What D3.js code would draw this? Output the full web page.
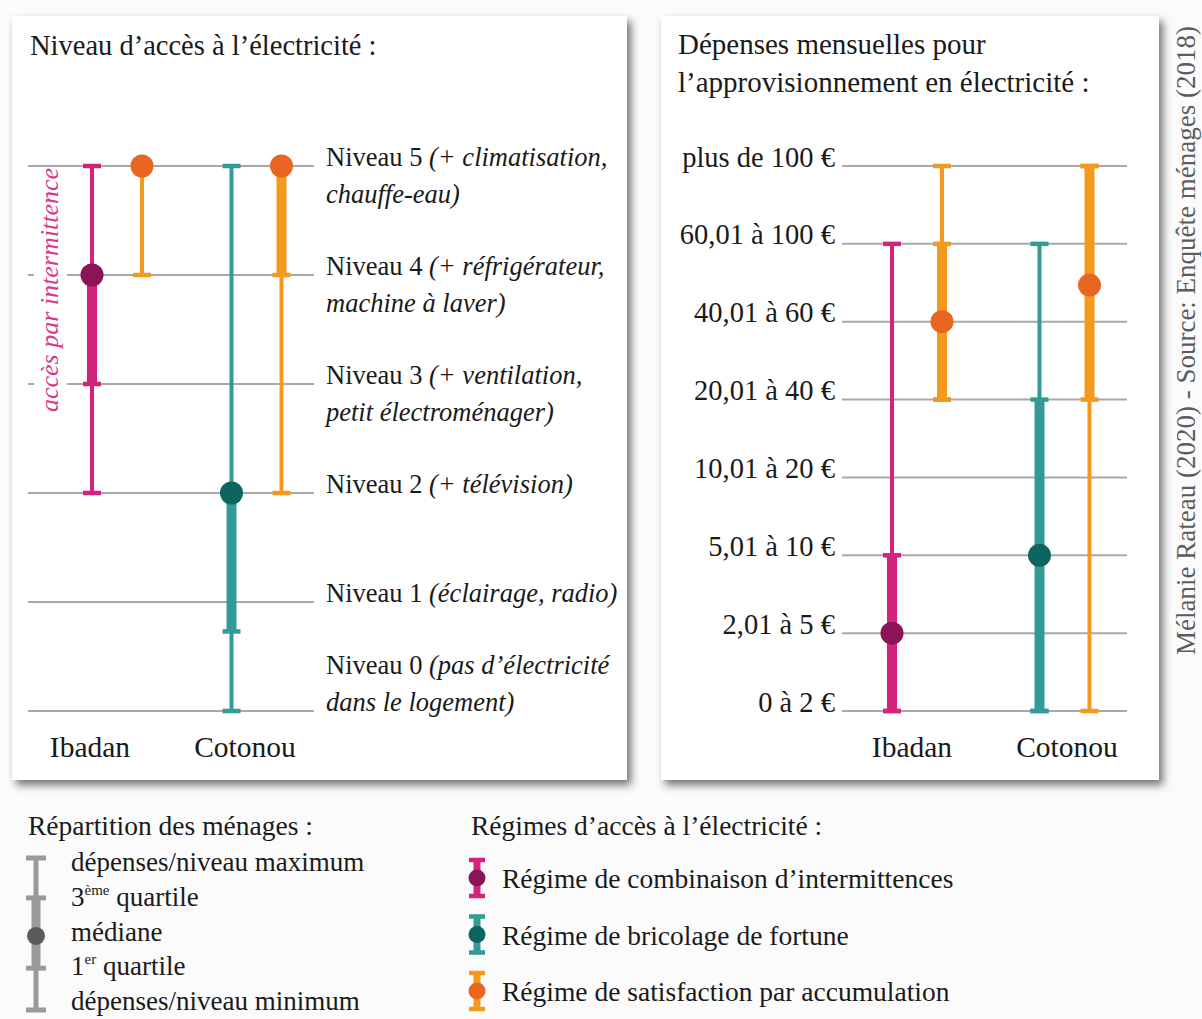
<!DOCTYPE html>
<html><head><meta charset="utf-8">
<script src="https://cdn.jsdelivr.net/npm/d3@7"></script>
<style>
body{margin:0;background:#fbfbfb;}
</style>
</head><body>
<svg id="c" width="1202" height="1019"></svg>
<script>
// ---------- DATA ----------
const cities = ["Ibadan", "Cotonou"];
const regimes = ["Régime de combinaison d’intermittences", "Régime de bricolage de fortune", "Régime de satisfaction par accumulation"];
const regimeLineColors = ["#d4237f", "#329b98", "#f39a1e"];
const regimeDotColors = ["#8c1458", "#0d6461", "#e8661f"];

const levelNames = ["Niveau 0", "Niveau 1", "Niveau 2", "Niveau 3", "Niveau 4", "Niveau 5"];
const levelDetail1 = ["(pas d’électricité", "(éclairage, radio)", "(+ télévision)", "(+ ventilation,", "(+ réfrigérateur,", "(+ climatisation,"];
const levelDetail2 = ["dans le logement)", "", "", "petit électroménager)", "machine à laver)", "chauffe-eau)"];

const spendLabels = ["0 à 2 €", "2,01 à 5 €", "5,01 à 10 €", "10,01 à 20 €", "20,01 à 40 €", "40,01 à 60 €", "60,01 à 100 €", "plus de 100 €"];

// Level of access (0-5) per city / regime
const accessCity   = ["Ibadan", "Ibadan", "Cotonou", "Cotonou"];
const accessRegime = [0, 2, 1, 2];
const accessMin    = [2, 4, 0, 2];
const accessQ1     = [3, 5, 0.73, 4];
const accessMedian = [4, 5, 2, 5];
const accessQ3     = [4, 5, 2, 5];
const accessMax    = [5, 5, 5, 5];

// Monthly spending class index (0 = "0 à 2 €" ... 7 = "plus de 100 €")
const spendCity   = ["Ibadan", "Ibadan", "Cotonou", "Cotonou"];
const spendRegime = [0, 2, 1, 2];
const spendMin    = [0, 4, 0, 0];
const spendQ1     = [0, 4, 0, 4];
const spendMedian = [1, 5, 2, 5.47];
const spendQ3     = [2, 6, 4, 7];
const spendMax    = [6, 7, 6, 7];

const sourceText = "Mélanie Rateau (2020) - Source: Enquête ménages (2018)";

// ---------- FONT PICK ----------
function pickFont(cands) {
  const ctx = document.createElement("canvas").getContext("2d");
  const sample = "Niveau d’accès à l’électricité mmmwwwiii";
  ctx.font = "40px monospace"; const wm = ctx.measureText(sample).width;
  ctx.font = "40px sans-serif"; const ws = ctx.measureText(sample).width;
  for (const c of cands) {
    ctx.font = `40px "${c}", monospace`; const a = ctx.measureText(sample).width;
    ctx.font = `40px "${c}", sans-serif`; const b = ctx.measureText(sample).width;
    if (a !== wm || b !== ws) return `"${c}"`;
  }
  return "serif";
}
const FONT = pickFont(["Liberation Serif", "DejaVu Serif", "Noto Serif", "Tinos", "Times New Roman", "FreeSerif", "Nimbus Roman"]);
d3.select("head").append("style").text(`text{font-family:${FONT},serif;fill:#1a1a1a;}`);

// ---------- SETUP ----------
const svg = d3.select("#c");
const defs = svg.append("defs");
const f = defs.append("filter").attr("id", "shadow").attr("x", "-5%").attr("y", "-5%").attr("width", "115%").attr("height", "115%");
f.append("feDropShadow").attr("dx", 4).attr("dy", 5).attr("stdDeviation", 4)
  .attr("flood-color", "#000").attr("flood-opacity", 0.55);

svg.append("rect").attr("x", 12).attr("y", 16).attr("width", 615).attr("height", 764)
  .attr("fill", "#fff").attr("filter", "url(#shadow)");
svg.append("rect").attr("x", 661).attr("y", 16).attr("width", 498).attr("height", 764)
  .attr("fill", "#fff").attr("filter", "url(#shadow)");

function buildRows(city, regime, mn, q1, md, q3, mx) {
  const counters = {};
  return city.map((c, i) => {
    counters[c] = (counters[c] || 0);
    const slot = counters[c]++;
    return {city: c, regime: regime[i], slot, min: mn[i], q1: q1[i], median: md[i], q3: q3[i], max: mx[i]};
  });
}

function drawBoxes(g, rows, xCity, xSlot, y) {
  const item = g.selectAll("g.item").data(rows).join("g").attr("class", "item")
    .attr("transform", d => `translate(${xCity(d.city) + xSlot(d.slot)},0)`);
  item.append("line").attr("y1", d => y(d.min)).attr("y2", d => y(d.max))
    .attr("stroke", d => regimeLineColors[d.regime]).attr("stroke-width", 4);
  item.append("line").attr("y1", d => y(d.q1)).attr("y2", d => y(d.q3))
    .attr("stroke", d => regimeLineColors[d.regime]).attr("stroke-width", 10);
  item.each(function(d) {
    const caps = [d.min, d.q1, d.q3, d.max];
    d3.select(this).selectAll("line.cap").data(caps).join("line").attr("class", "cap")
      .attr("x1", -9).attr("x2", 9).attr("y1", v => y(v)).attr("y2", v => y(v))
      .attr("stroke", regimeLineColors[d.regime]).attr("stroke-width", 4.5);
  });
  item.append("circle").attr("cy", d => y(d.median)).attr("r", 11.5)
    .attr("fill", d => regimeDotColors[d.regime]);
}

// ---------- LEFT PANEL ----------
const yLevel = d3.scaleLinear().domain([0, 5]).range([711, 166]);
const xCityL = d3.scalePoint().domain(cities).range([117, 256.5]);
const xSlot = d3.scalePoint().domain([0, 1]).range([-25, 25]);
const xLabelL = d3.scalePoint().domain(cities).range([90, 245]);

const L = svg.append("g");
L.append("text").attr("x", 30).attr("y", 55).attr("font-size", 28.5).text("Niveau d’accès à l’électricité :");

// intermittence annotation
const interm = L.append("text")
  .attr("transform", `translate(58,${(yLevel(5) + yLevel(3)) / 2 + 15}) rotate(-90)`)
  .attr("text-anchor", "middle").attr("font-size", 26).attr("font-style", "italic")
  .style("fill", "#d6398c").text("accès par intermittence");
const ib = interm.node().getBoundingClientRect();

const levels = d3.range(6);
levels.forEach(l => {
  const yy = yLevel(l);
  const segs = (yy > ib.top && yy < ib.bottom) ? [[28, 34], [Math.max(ib.right + 3, 65), 314]] : [[28, 314]];
  segs.forEach(s => L.append("line").attr("x1", s[0]).attr("x2", s[1]).attr("y1", yy).attr("y2", yy)
    .attr("stroke", "#a8a8a8").attr("stroke-width", 2));
});

const lab = L.selectAll("text.lvl").data(levels).join("text").attr("class", "lvl")
  .attr("x", 326).attr("font-size", 26.5)
  .attr("y", d => levelDetail2[d] && d === 0 ? yLevel(d) - 37 : yLevel(d));
lab.append("tspan").text(d => levelNames[d] + " ");
lab.append("tspan").attr("font-style", "italic").text(d => levelDetail1[d]);
L.selectAll("text.lvl2").data(levels.filter(d => levelDetail2[d])).join("text").attr("class", "lvl2")
  .attr("x", 326).attr("font-size", 26.5).attr("font-style", "italic")
  .attr("y", d => d === 0 ? yLevel(d) : yLevel(d) + 37).text(d => levelDetail2[d]);

drawBoxes(L.append("g"), buildRows(accessCity, accessRegime, accessMin, accessQ1, accessMedian, accessQ3, accessMax), xCityL, xSlot, yLevel);

L.selectAll("text.city").data(cities).join("text").attr("class", "city")
  .attr("x", d => xLabelL(d)).attr("y", 757).attr("text-anchor", "middle").attr("font-size", 29.5).text(d => d);

// ---------- RIGHT PANEL ----------
const ySpend = d3.scaleLinear().domain([0, 7]).range([711, 166]);
const xCityR = d3.scalePoint().domain(cities).range([917, 1064.5]);
const xLabelR = d3.scalePoint().domain(cities).range([912, 1067]);

const R = svg.append("g");
R.append("text").attr("x", 678).attr("y", 54).attr("font-size", 29).text("Dépenses mensuelles pour");
R.append("text").attr("x", 678).attr("y", 92).attr("font-size", 29).text("l’approvisionnement en électricité :");

R.selectAll("line.grid").data(d3.range(8)).join("line").attr("class", "grid")
  .attr("x1", 842).attr("x2", 1127).attr("y1", d => ySpend(d)).attr("y2", d => ySpend(d))
  .attr("stroke", "#a8a8a8").attr("stroke-width", 2);

const axis = R.append("g").attr("transform", "translate(842,0)")
  .call(d3.axisLeft(ySpend).tickValues(d3.range(8)).tickFormat(i => spendLabels[i]).tickSize(0).tickPadding(7));
axis.select(".domain").remove();
axis.attr("font-family", null).attr("font-size", null);
axis.selectAll("text").attr("dy", "0").attr("font-size", 28.5).style("fill", "#1a1a1a");

drawBoxes(R.append("g"), buildRows(spendCity, spendRegime, spendMin, spendQ1, spendMedian, spendQ3, spendMax), xCityR, xSlot, ySpend);

R.selectAll("text.city").data(cities).join("text").attr("class", "city")
  .attr("x", d => xLabelR(d)).attr("y", 757).attr("text-anchor", "middle").attr("font-size", 29.5).text(d => d);

// ---------- SOURCE ----------
svg.append("text").attr("transform", "translate(1195,655) rotate(-90)")
  .attr("font-size", 27).style("fill", "#5c5c5c").text(sourceText);

// ---------- LEGEND 1 : distribution ----------
const LG = svg.append("g");
LG.append("text").attr("x", 28).attr("y", 835).attr("font-size", 27.5).text("Répartition des ménages :");
const lgY = d3.scaleLinear().domain([0, 4]).range([1010, 858]); // min, q1, median, q3, max
const gx = 36;
LG.append("line").attr("x1", gx).attr("x2", gx).attr("y1", lgY(0)).attr("y2", lgY(4)).attr("stroke", "#9a9a9a").attr("stroke-width", 5);
LG.append("line").attr("x1", gx).attr("x2", gx).attr("y1", lgY(1.1)).attr("y2", lgY(2.95)).attr("stroke", "#9a9a9a").attr("stroke-width", 9);
[0, 1.1, 2.95, 4].forEach(v => LG.append("line").attr("x1", gx - 10).attr("x2", gx + 10).attr("y1", lgY(v)).attr("y2", lgY(v))
  .attr("stroke", "#9a9a9a").attr("stroke-width", 5));
LG.append("circle").attr("cx", gx).attr("cy", lgY(1.95)).attr("r", 9).attr("fill", "#5a5a5a");

const legItems = [
  {t: ["dépenses/niveau maximum"]},
  {t: ["3", "ème", " quartile"]},
  {t: ["médiane"]},
  {t: ["1", "er", " quartile"]},
  {t: ["dépenses/niveau minimum"]}
];
const legBase = d3.scaleLinear().domain([0, 4]).range([871, 1010]);
legItems.forEach((it, i) => {
  const t = LG.append("text").attr("x", 71).attr("y", legBase(i)).attr("font-size", 27);
  t.append("tspan").text(it.t[0]);
  if (it.t.length > 1) {
    t.append("tspan").attr("font-size", 15).attr("dy", -11).text(it.t[1]);
    t.append("tspan").attr("dy", 11).text(it.t[2]);
  }
});

// ---------- LEGEND 2 : regimes ----------
const RG = svg.append("g");
RG.append("text").attr("x", 471).attr("y", 835).attr("font-size", 27.5).text("Régimes d’accès à l’électricité :");
const regY = d3.scalePoint().domain(d3.range(3)).range([878, 991]);
const rgi = RG.selectAll("g.reg").data(d3.range(3)).join("g").attr("class", "reg")
  .attr("transform", d => `translate(477,${regY(d)})`);
rgi.append("line").attr("y1", -19).attr("y2", 19).attr("stroke", d => regimeLineColors[d]).attr("stroke-width", 7);
rgi.append("line").attr("x1", -8).attr("x2", 8).attr("y1", -18).attr("y2", -18).attr("stroke", d => regimeLineColors[d]).attr("stroke-width", 4.5);
rgi.append("line").attr("x1", -8).attr("x2", 8).attr("y1", 18).attr("y2", 18).attr("stroke", d => regimeLineColors[d]).attr("stroke-width", 4.5);
rgi.append("circle").attr("r", 8.5).attr("fill", d => regimeDotColors[d]);
rgi.append("text").attr("x", 25).attr("y", 10).attr("font-size", 27.5).text(d => regimes[d]);
</script>
</body></html>
